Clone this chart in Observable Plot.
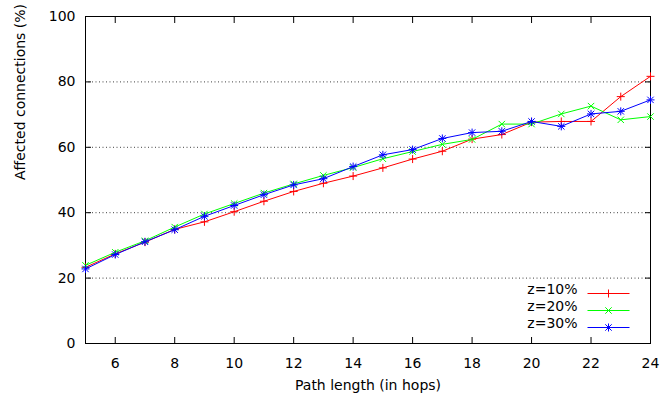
<!DOCTYPE html>
<html><head><meta charset="utf-8">
<script src="https://cdn.jsdelivr.net/npm/d3@7"></script>
<script src="https://cdn.jsdelivr.net/npm/@observablehq/plot@0.6"></script>
<style>body{margin:0;background:#fff} svg{display:block}</style>
</head><body><div id="chart"></div>
<script>
const hops = [5,6,7,8,9,10,11,12,13,14,15,16,17,18,19,20,21,22,23,24];
const z10 = [23.3,27.4,31.0,34.9,37.2,40.3,43.5,46.5,49.0,51.2,53.7,56.4,58.8,62.5,63.9,67.7,67.9,67.9,75.5,81.7];
const z20 = [23.9,27.9,31.4,35.6,39.6,42.8,46.0,48.8,51.4,53.8,56.5,58.7,60.9,62.4,67.1,67.1,70.2,72.6,68.4,69.4];
const z30 = [22.8,27.2,31.1,34.8,38.9,42.2,45.5,48.5,50.4,54.1,57.7,59.3,62.7,64.5,64.9,67.9,66.4,70.2,71.0,74.5];
const seriesNames = ["z=10%","z=20%","z=30%"];
const seriesColors = ["#ff0000","#00ff00","#0000ff"];
const xTicks = [6,8,10,12,14,16,18,20,22,24];
const yTicks = [0,20,40,60,80,100];
const gridTicks = [20,40,60,80];
const xLabel = "Path length (in hops)";
const yLabel = "Affected connections (%)";

const seriesValues = [z10, z20, z30];
const rows = [];
seriesNames.forEach((s, i) => hops.forEach((h, j) => rows.push({series: s, hops: h, value: seriesValues[i][j]})));

const plusSym = {draw(c, size){const h=Math.sqrt(size/Math.PI); c.moveTo(-h,0);c.lineTo(h,0);c.moveTo(0,-h);c.lineTo(0,h);}};
const timesSym = {draw(c, size){const h=Math.sqrt(size/Math.PI)*0.8; c.moveTo(-h,-h);c.lineTo(h,h);c.moveTo(-h,h);c.lineTo(h,-h);}};
const starSym = {draw(c, size){plusSym.draw(c,size); timesSym.draw(c,size);}};
const lineSym = {draw(c, size){const h=Math.sqrt(size/Math.PI); c.moveTo(-h,0);c.lineTo(h,0);}};
const symbols = [plusSym, timesSym, starSym];

const marks = [
  Plot.gridY(gridTicks, {stroke: "#000", strokeOpacity: 0.75, strokeDasharray: "1,2.5"}),
  Plot.axisX(xTicks, {tickSize: 0, tickPadding: 15, label: null, fontSize: 14}),
  Plot.axisX(xTicks, {tickSize: -6, tickFormat: () => "", label: null}),
  Plot.axisX(xTicks, {anchor: "top", tickSize: -6, tickFormat: () => "", label: null}),
  Plot.axisY(yTicks, {tickSize: 0, tickPadding: 10, label: null, fontSize: 14}),
  Plot.axisY(yTicks, {tickSize: -6, tickFormat: () => "", label: null}),
  Plot.axisY(yTicks, {anchor: "right", tickSize: -6, tickFormat: () => "", label: null}),
  Plot.frame({stroke: "#000"}),
  Plot.text([xLabel], {frameAnchor: "bottom", dy: 46, fontSize: 14}),
  Plot.text([yLabel], {frameAnchor: "left", dx: -65, rotate: -90, fontSize: 14})
];
seriesNames.forEach((s, i) => {
  const d = rows.filter(r => r.series === s);
  marks.push(Plot.line(d, {x: "hops", y: "value", stroke: seriesColors[i], strokeWidth: 1}));
  marks.push(Plot.dot(d, {x: "hops", y: "value", stroke: seriesColors[i], symbol: symbols[i], r: 4, strokeWidth: 1}));
  const dy = -(50 - 17 * i);
  marks.push(Plot.text([s], {frameAnchor: "bottom-right", dx: -73, dy, textAnchor: "end", fontSize: 14}));
  marks.push(Plot.dot([s], {frameAnchor: "bottom-right", dx: -42, dy, r: 21, symbol: lineSym, stroke: seriesColors[i], strokeWidth: 1}));
  marks.push(Plot.dot([s], {frameAnchor: "bottom-right", dx: -42, dy, r: 4, symbol: symbols[i], stroke: seriesColors[i], strokeWidth: 1}));
});

const chart = Plot.plot({
  width: 660, height: 398,
  marginLeft: 85, marginRight: 10, marginTop: 16, marginBottom: 55,
  style: {fontFamily: "DejaVu Sans", fontSize: "14px", color: "#000", background: "#fff"},
  x: {domain: [5, 24], ticks: xTicks},
  y: {domain: [0, 100], ticks: yTicks},
  marks
});
document.getElementById("chart").append(chart);
</script>
</body></html>
